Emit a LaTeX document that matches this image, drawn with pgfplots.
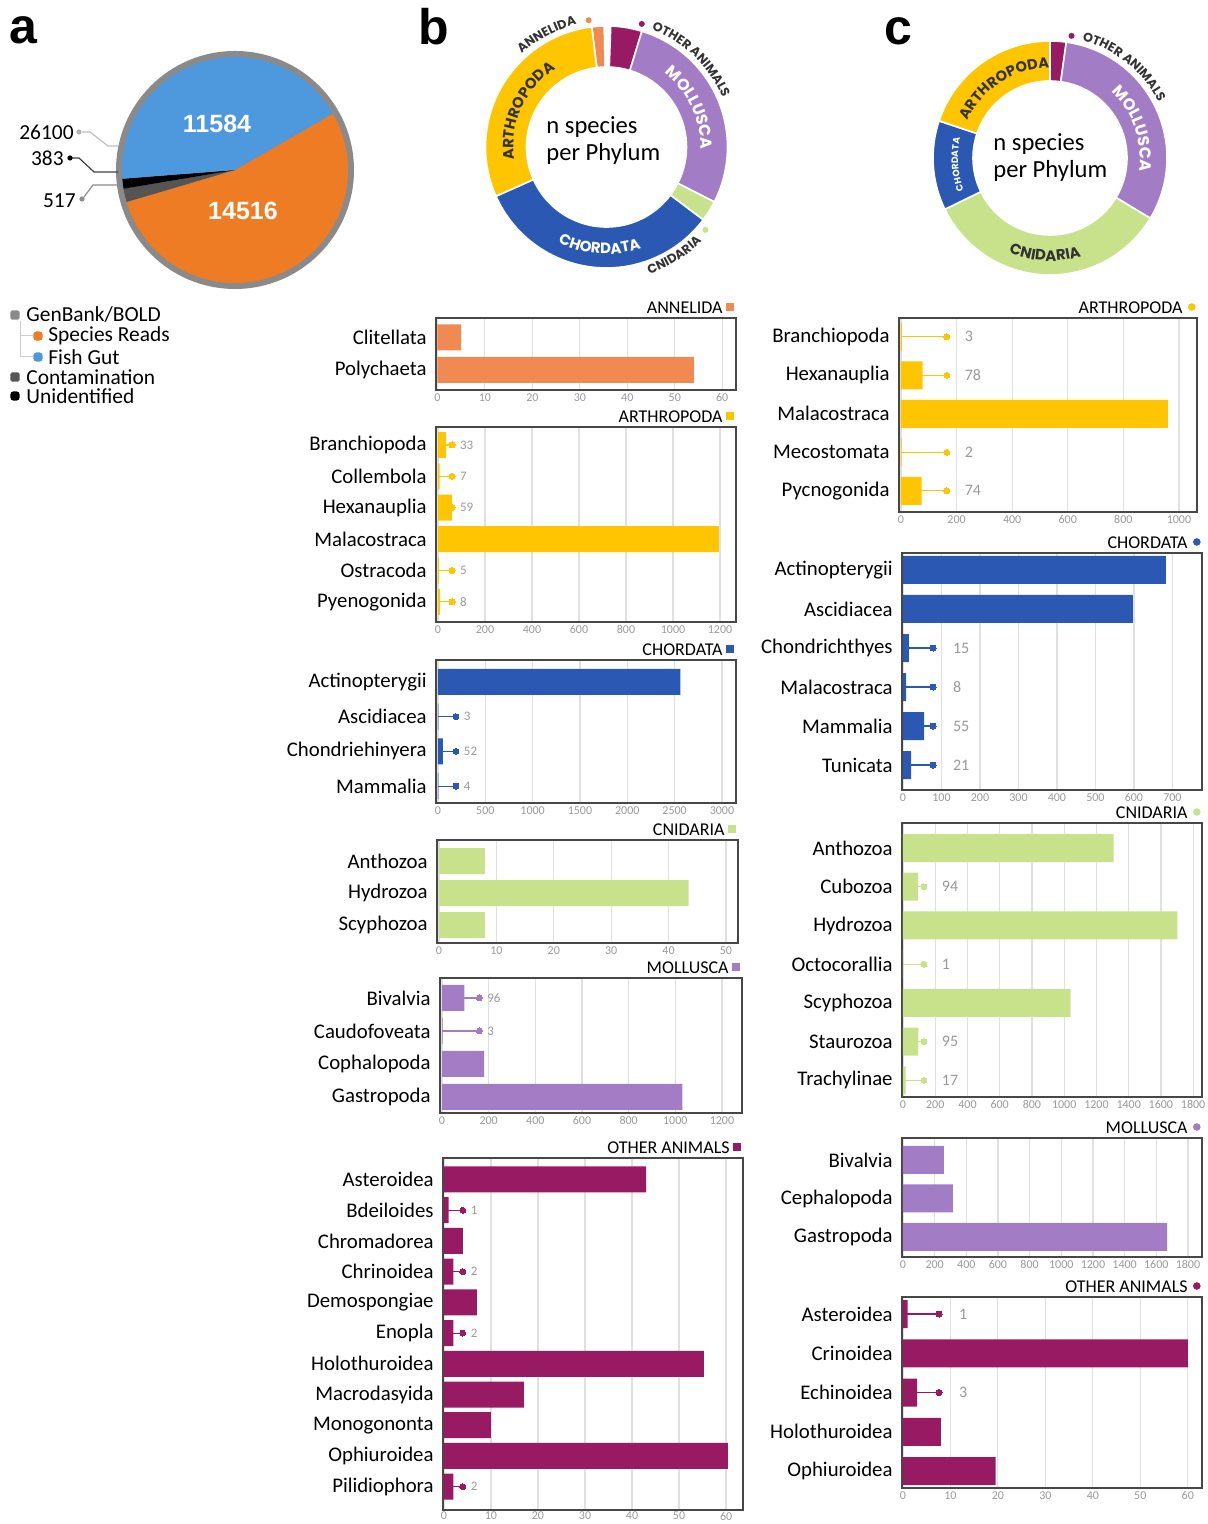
\documentclass[border=0pt]{standalone}
\usepackage{pgfplots}
\pgfplotsset{compat=1.18}
\usepackage{fontspec}
\setmainfont{Carlito}
\newfontfamily\pop{Poppins}
\newfontfamily\lsans{Liberation Sans}
\usetikzlibrary{decorations.text}

\definecolor{cAnn}{RGB}{240,138,82}
\definecolor{cArt}{RGB}{255,198,0}
\definecolor{cCho}{RGB}{42,88,178}
\definecolor{cCni}{RGB}{200,226,140}
\definecolor{cMol}{RGB}{163,124,198}
\definecolor{cOth}{RGB}{152,26,98}
\definecolor{pBlue}{RGB}{78,152,222}
\definecolor{pOrange}{RGB}{238,124,36}
\definecolor{pGray}{RGB}{138,138,138}
\definecolor{pDark}{RGB}{85,85,85}

\pgfplotsset{
 panel/.style={scale only axis, anchor=north west, width=150pt, y dir=reverse, clip=false,
  axis line style={black!72, line width=1.3pt},
  xmajorgrids, grid style={black!12, line width=0.6pt},
  major tick length=0pt, tick style={draw=none},
  xticklabel style={font=\fontsize{6}{6.5}\selectfont, text=black!40, inner sep=1.5pt},
  yticklabel style={font=\fontsize{10.4}{12}\selectfont, inner sep=0pt, xshift=-4.5pt},
  ytick={0,1,...,10},
  /pgf/number format/1000 sep={}, /pgf/number format/assume math mode=true,
  scaled x ticks=false},
 bars/.style={xbar, bar shift=0pt, bar width=#1, draw=none},
 callout/.style={xcomb, draw=#1, line width=0.55pt, mark=*, mark size=1.5pt,
  mark options={fill=#1, draw=#1, line width=0pt}, point meta=explicit symbolic,
  nodes near coords={\pgfplotspointmeta},
  nodes near coords style={anchor=west, text=black!40, inner sep=0pt, xshift=4pt}},
}

\newcommand\btitle[2]{%
 \node[anchor=south east, inner sep=0pt, font=\fontsize{9}{10}\selectfont, xshift=-6.5pt, yshift=2pt] at (axis description cs:1,1) {#1};
 \node[fill=#2, inner sep=0pt, minimum size=3.6pt, anchor=east, xshift=-1pt, yshift=5.5pt] at (axis description cs:1,1) {};}
\newcommand\ctitle[2]{%
 \node[anchor=south east, inner sep=0pt, font=\fontsize{9}{10}\selectfont, xshift=-7pt, yshift=2pt] at (axis description cs:1,1) {#1};
 \node[circle, fill=#2, inner sep=0pt, minimum size=3.8pt, anchor=east, xshift=-0.5pt, yshift=5.5pt] at (axis description cs:1,1) {};}

\newcommand\donutseg[2]{%
 \pgfmathsetmacro\segend{\segstart-#2}%
 \fill[#1, draw=white, line width=0.8pt] (\segstart:\Ro) arc[start angle=\segstart, end angle=\segend, radius=\Ro] -- (\segend:\Ri) arc[start angle=\segend, end angle=\segstart, radius=\Ri] -- cycle;%
 \xdef\segstart{\segend}}
\newcommand\arclabel[6]{\path[decorate, decoration={text along path, text align=center, text color=#5, text={|\pop\bfseries\fontsize{#4}{#4}\selectfont|#6}}] (#2:#1) arc[start angle=#2, end angle=#3, radius=#1];}

\begin{document}
\begin{tikzpicture}[x=0.5pt, y=0.5pt]
\useasboundingbox (0,0) rectangle (1208,1524);
% anchor points of the bar panels (top-left corners of the boxes)
\coordinate (b1) at (436,1206);
\coordinate (b2) at (436,1097);
\coordinate (b3) at (436,864);
\coordinate (b4) at (437,684);
\coordinate (b5) at (440,546);
\coordinate (b6) at (443,366);
\coordinate (c1) at (899,1206);
\coordinate (c2) at (902,971);
\coordinate (c3) at (902,701);
\coordinate (c4) at (902,386);
\coordinate (c5) at (902,227);

% panel letters
\node[anchor=base west, inner sep=0pt, font=\lsans\bfseries\fontsize{25}{25}\selectfont] at (9,1480) {a};
\node[anchor=base west, inner sep=0pt, font=\lsans\bfseries\fontsize{25}{25}\selectfont] at (418,1479) {b};
\node[anchor=base west, inner sep=0pt, font=\lsans\bfseries\fontsize{25}{25}\selectfont] at (884,1479) {c};

% ---------- panel a : pie (values in thousands of reads) ----------
\begin{scope}[shift={(235,1354)}]
 \fill[pGray] (0,0) circle (119);
 \def\tot{27.000}
 \def\pa{30}
 \pgfmathsetmacro\pb{\pa-360*14.516/\tot}
 \pgfmathsetmacro\pc{\pb-360*0.517/\tot}
 \pgfmathsetmacro\pd{\pc-360*0.383/\tot}
 \fill[pOrange] (0,0) -- (\pa:113) arc[start angle=\pa, end angle=\pb, radius=113] -- cycle;
 \fill[pDark] (0,0) -- (\pb:113) arc[start angle=\pb, end angle=\pc, radius=113] -- cycle;
 \fill[black] (0,0) -- (\pc:113) arc[start angle=\pc, end angle=\pd, radius=113] -- cycle;
 \fill[pBlue] (0,0) -- (\pd:113) arc[start angle=\pd, end angle=-330, radius=113] -- cycle;
\end{scope}
\node[text=white, font=\lsans\bfseries\fontsize{12.5}{13}\selectfont] at (217,1400) {11584};
\node[text=white, font=\lsans\bfseries\fontsize{12.5}{13}\selectfont] at (243,1313) {14516};
% pie callouts
\draw[black!25, line width=0.6pt] (82,1392) -- (90,1392) -- (108,1378) -- (118,1378);
\fill[black!30] (79,1392) circle (2.6);
\node[anchor=east, inner sep=0pt, font=\fontsize{10.7}{12}\selectfont] at (74,1392) {26100};
\draw[black!75, line width=0.6pt] (72,1366) -- (79,1366) -- (94,1352) -- (118,1352);
\fill[black] (70,1366) circle (2.6);
\node[anchor=east, inner sep=0pt, font=\fontsize{10.7}{12}\selectfont] at (64,1366) {383};
\draw[black!45, line width=0.6pt] (84,1327) -- (93,1339) -- (118,1339);
\fill[black!45] (82,1325) circle (2.6);
\node[anchor=east, inner sep=0pt, font=\fontsize{10.7}{12}\selectfont] at (76,1323) {517};
% legend
\draw[black!20, line width=0.5pt] (20,1203) -- (20,1167) -- (33,1167);
\draw[black!20, line width=0.5pt] (20,1188) -- (33,1188);
\node[fill=pGray, inner sep=0pt, minimum size=4.6pt, rounded corners=1pt] at (15,1209) {};
\node[fill=pOrange, inner sep=0pt, minimum size=4.6pt, rounded corners=1.5pt] at (38,1188) {};
\node[fill=pBlue, inner sep=0pt, minimum size=4.6pt, rounded corners=1.5pt] at (38,1167) {};
\node[fill=pDark, inner sep=0pt, minimum size=4.6pt, rounded corners=1pt] at (15,1147) {};
\node[fill=black, inner sep=0pt, minimum size=4.6pt, rounded corners=1.5pt] at (15,1128) {};
\begin{scope}[every node/.style={anchor=west, inner sep=0pt, font=\fontsize{10.7}{12}\selectfont}]
\node at (26,1209) {GenBank/BOLD};
\node at (48,1188) {Species Reads};
\node at (48,1167) {Fish Gut};
\node at (26,1147) {Contamination};
\node at (26,1128) {Unidentified};
\end{scope}

% ---------- donut b ----------
\begin{scope}[shift={(606.5,1377)}]
 \def\Ro{121}\def\Ri{80}\xdef\segstart{97}
 \donutseg{cAnn}{6}
 \donutseg{white}{3}
 \donutseg{cOth}{15}
 \donutseg{cMol}{100}
 \donutseg{cCni}{10}
 \donutseg{cCho}{119}
 \donutseg{cArt}{107}
 \arclabel{126}{133}{103}{6.3}{black!80}{ANNELIDA}
 \arclabel{126}{70}{22}{6.3}{black!80}{OTHER ANIMALS}
 \arclabel{134}{-74}{-42}{6.3}{black!80}{CNIDARIA}
 \arclabel{94}{52}{-2}{8}{white}{MOLLUSCA}
 \arclabel{93}{188}{123}{7.5}{black!80}{ARTHROPODA}
 \arclabel{107}{240}{292}{7.5}{white}{CHORDATA}
 \fill[cAnn] (98:128) circle (3);
 \fill[cOth] (74:128) circle (3);
 \fill[cCni] (-40:129) circle (3);
\end{scope}
\node[anchor=west, align=left, inner sep=0pt, font=\fontsize{12.3}{13.5}\selectfont] at (546,1383) {n species\\per Phylum};

% ---------- donut c ----------
\begin{scope}[shift={(1050,1366)}]
 \def\Ro{117}\def\Ri{77}\xdef\segstart{90}
 \donutseg{cOth}{8}
 \donutseg{cMol}{113}
 \donutseg{cCni}{123}
 \donutseg{cCho}{44.5}
 \donutseg{cArt}{71.5}
 \arclabel{122}{77}{25}{6.3}{black!80}{OTHER ANIMALS}
 \arclabel{90}{156}{90}{7.3}{black!80}{ARTHROPODA}
 \arclabel{92}{212}{156}{4.6}{white}{CHORDATA}
 \arclabel{90}{47}{-8}{8}{white}{MOLLUSCA}
 \arclabel{103}{242}{292}{7.5}{black!80}{CNIDARIA}
 \fill[cOth] (80:124) circle (3);
\end{scope}
\node[anchor=west, align=left, inner sep=0pt, font=\fontsize{12.3}{13.5}\selectfont] at (993,1366) {n species\\per Phylum};

% ================= column b =================
\begin{axis}[panel, at={(b1)}, height=36pt, xmin=-0.3, xmax=62.9, xtick={0,10,...,60},
  ymin=-0.6, ymax=1.615, yticklabels={Clitellata,Polychaeta}]
 \addplot[bars=13pt, fill=cAnn] coordinates {(5,0) (54,1)};
 \btitle{ANNELIDA}{cAnn}
\end{axis}

\begin{axis}[panel, at={(b2)}, height=97.5pt, xmin=-8.5, xmax=1268, xtick={0,200,...,1200},
  ymin=-0.573, ymax=5.64, yticklabels={Branchiopoda,Collembola,Hexanauplia,Malacostraca,Ostracoda,Pyenogonida},
  nodes near coords style={font=\fontsize{6.5}{7}\selectfont}]
 \addplot[callout=cArt] coordinates {(60,0) [33] (60,1) [7] (60,2) [59] (60,4) [5] (60,5) [8]};
 \addplot[bars=13pt, fill=cArt] coordinates {(33,0) (7,1) (59,2) (1195,3) (5,4) (8,5)};
 \btitle{ARTHROPODA}{cArt}
\end{axis}

\begin{axis}[panel, at={(b3)}, height=71.5pt, xmin=-21, xmax=3148, xtick={0,500,...,3000},
  ymin=-0.634, ymax=3.487, yticklabels={Actinopterygii,Ascidiacea,Chondriehinyera,Mammalia},
  nodes near coords style={font=\fontsize{6.5}{7}\selectfont}]
 \addplot[callout=cCho] coordinates {(190,1) [3] (190,2) [52] (190,3) [4]};
 \addplot[bars=13pt, fill=cCho] coordinates {(2560,0) (3,1) (52,2) (4,3)};
 \btitle{CHORDATA}{cCho}
\end{axis}

\begin{axis}[panel, at={(b4)}, width=150.5pt, height=51.5pt, xmin=-0.35, xmax=52.1, xtick={0,10,...,50},
  ymin=-0.656, ymax=2.56, yticklabels={Anthozoa,Hydrozoa,Scyphozoa}]
 \addplot[bars=13pt, fill=cCni] coordinates {(8,0) (43.5,1) (8,2)};
 \btitle{CNIDARIA}{cCni}
\end{axis}

\begin{axis}[panel, at={(b5)}, width=151pt, height=67.5pt, xmin=-8.6, xmax=1286, xtick={0,200,...,1200},
  ymin=-0.606, ymax=3.485, yticklabels={Bivalvia,Caudofoveata,Cophalopoda,Gastropoda},
  nodes near coords style={font=\fontsize{6.5}{7}\selectfont}]
 \addplot[callout=cMol] coordinates {(160,0) [96] (160,1) [3]};
 \addplot[bars=13pt, fill=cMol] coordinates {(96,0) (3,1) (180,2) (1030,3)};
 \btitle{MOLLUSCA}{cMol}
\end{axis}

\begin{axis}[panel, at={(b6)}, height=176pt, xmin=-0.2, xmax=63.6, xtick={0,10,...,60},
  ymin=-0.7, ymax=10.76,
  yticklabels={Asteroidea,Bdeiloides,Chromadorea,Chrinoidea,Demospongiae,Enopla,Holothuroidea,Macrodasyida,Monogononta,Ophiuroidea,Pilidiophora},
  xticklabel style={inner sep=0.8pt},
  nodes near coords style={font=\fontsize{6.5}{7}\selectfont}]
 \addplot[callout=cOth] coordinates {(4,1) [1] (4,3) [2] (4,5) [2] (4,10) [2]};
 \addplot[bars=13pt, fill=cOth] coordinates {(43,0) (1,1) (4,2) (2,3) (7,4) (2,5) (55.3,6) (17,7) (10,8) (60.4,9) (2,10)};
 \btitle{OTHER ANIMALS}{cOth}
\end{axis}

% ================= column c =================
\begin{axis}[panel, at={(c1)}, width=149pt, height=97pt, xmin=-7, xmax=1065, xtick={0,200,...,1000},
  ymin=-0.49, ymax=4.55, yticklabels={Branchiopoda,Hexanauplia,Malacostraca,Mecostomata,Pycnogonida},
  nodes near coords style={font=\fontsize{8}{9}\selectfont, xshift=5pt}]
 \addplot[callout=cArt] coordinates {(165,0) [3] (165,1) [78] (165,3) [2] (165,4) [74]};
 \addplot[bars=14pt, fill=cArt] coordinates {(3,0) (78,1) (960,2) (2,3) (74,4)};
 \ctitle{ARTHROPODA}{cArt}
\end{axis}

\begin{axis}[panel, at={(c2)}, height=118.5pt, xmin=-2.6, xmax=777, xtick={0,100,...,700},
  ymin=-0.436, ymax=5.64, yticklabels={Actinopterygii,Ascidiacea,Chondrichthyes,Malacostraca,Mammalia,Tunicata},
  nodes near coords style={font=\fontsize{8}{9}\selectfont, xshift=6pt}]
 \addplot[callout=cCho] coordinates {(78,2) [15] (78,3) [8] (78,4) [55] (78,5) [21]};
 \addplot[bars=14pt, fill=cCho] coordinates {(683,0) (597,1) (15,2) (8,3) (55,4) (21,5)};
 \ctitle{CHORDATA}{cCho}
\end{axis}

\begin{axis}[panel, at={(c3)}, height=137pt, xmin=-6, xmax=1855, xtick={0,200,...,1800},
  ymin=-0.646, ymax=6.43, yticklabels={Anthozoa,Cubozoa,Hydrozoa,Octocorallia,Scyphozoa,Staurozoa,Trachylinae},
  nodes near coords style={font=\fontsize{8}{9}\selectfont, xshift=5pt}]
 \addplot[callout=cCni] coordinates {(130,1) [94] (130,3) [1] (130,5) [95] (130,6) [17]};
 \addplot[bars=14pt, fill=cCni] coordinates {(1306,0) (94,1) (1702,2) (1,3) (1040,4) (95,5) (17,6)};
 \ctitle{CNIDARIA}{cCni}
\end{axis}

\begin{axis}[panel, at={(c4)}, height=59.5pt, xmin=-6, xmax=1889, xtick={0,200,...,1800},
  ymin=-0.57, ymax=2.52, yticklabels={Bivalvia,Cephalopoda,Gastropoda}]
 \addplot[bars=14pt, fill=cMol] coordinates {(259,0) (316,1) (1668,2)};
 \ctitle{MOLLUSCA}{cMol}
\end{axis}

\begin{axis}[panel, at={(c5)}, height=95.5pt, xmin=-0.2, xmax=63, xtick={0,10,...,60},
  ymin=-0.433, ymax=4.43, yticklabels={Asteroidea,Crinoidea,Echinoidea,Holothuroidea,Ophiuroidea},
  nodes near coords style={font=\fontsize{8}{9}\selectfont, xshift=6pt}]
 \addplot[callout=cOth] coordinates {(7.6,0) [1] (7.6,2) [3]};
 \addplot[bars=14pt, fill=cOth] coordinates {(1,0) (60,1) (3,2) (8,3) (19.5,4)};
 \ctitle{OTHER ANIMALS}{cOth}
\end{axis}
\end{tikzpicture}
\end{document}
